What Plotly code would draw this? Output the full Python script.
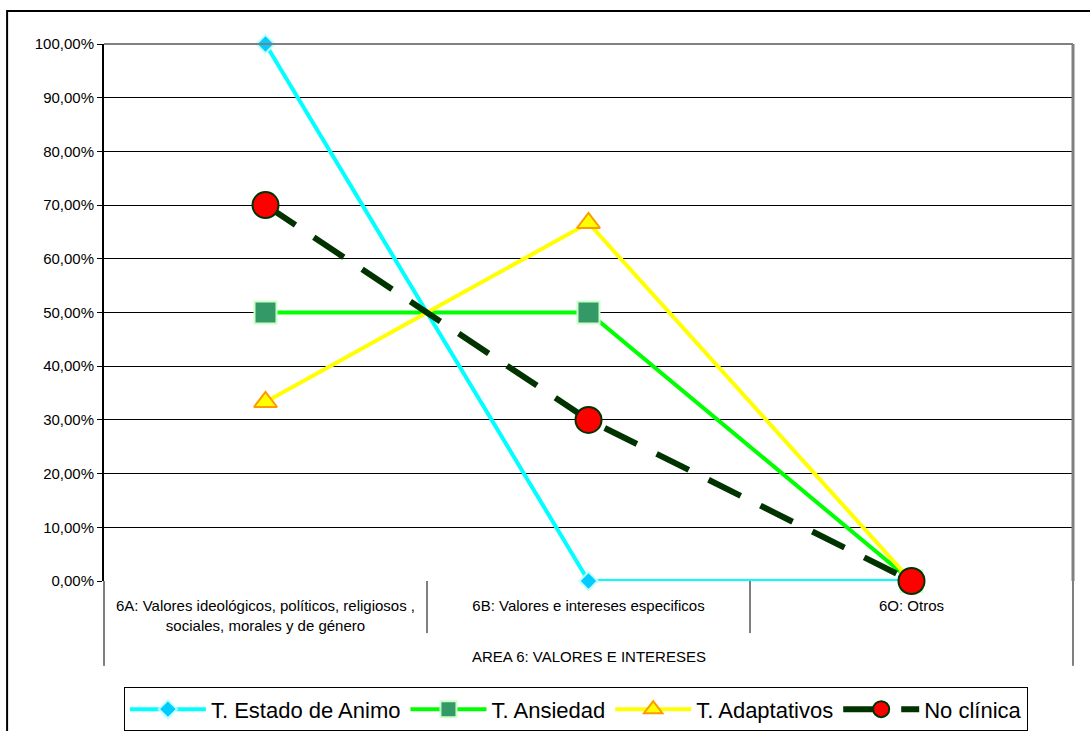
import plotly.graph_objects as go

# Categories (area 6) and the share of each group per category
categorias = [
    "6A: Valores ideológicos, políticos, religiosos ,<br>sociales, morales y de género",
    "6B: Valores e intereses especificos",
    "6O: Otros",
]
grupo_area = "AREA 6: VALORES E INTERESES"

estado_animo = [1.00, 0.00, 0.00]
ansiedad = [0.50, 0.50, 0.00]
adaptativos = [1 / 3, 2 / 3, 0.00]
no_clinica = [0.70, 0.30, 0.00]

y_ticks = [i / 10 for i in range(11)]
y_tick_labels = [f"{v * 100:.2f}%".replace(".", ",") for v in y_ticks]

x = list(range(len(categorias)))
FONT = "Liberation Sans, Arial, sans-serif"

fig = go.Figure()

fig.add_trace(go.Scatter(
    x=x, y=estado_animo, name="T. Estado de Animo", mode="lines+markers",
    line=dict(color="#00FFFF", width=4),
    marker=dict(symbol="diamond", size=14, color="#00CCFF",
                line=dict(color="#BFFFFF", width=2)),
    cliponaxis=False,
))
fig.add_trace(go.Scatter(
    x=x, y=ansiedad, name="T. Ansiedad", mode="lines+markers",
    line=dict(color="#00FF00", width=4),
    marker=dict(symbol="square", size=22, color="#339966",
                line=dict(color="#CCFFCC", width=2)),
    cliponaxis=False,
))
fig.add_trace(go.Scatter(
    x=x, y=adaptativos, name="T. Adaptativos", mode="lines+markers",
    line=dict(color="#FFFF00", width=4),
    marker=dict(symbol="triangle-up", size=20, color="#FFFF00",
                line=dict(color="#FF9900", width=2)),
    cliponaxis=False,
))
fig.add_trace(go.Scatter(
    x=x, y=no_clinica, name="No clínica", mode="lines+markers",
    line=dict(color="#003300", width=6, dash="36px,22px"),
    marker=dict(symbol="circle", size=26, color="#FF0000",
                line=dict(color="#003300", width=2)),
    cliponaxis=False,
))

shapes = [
    # outer chart frame
    dict(type="rect", xref="paper", yref="paper", x0=-0.100, x1=1.2, y0=-0.5, y1=1.0615,
         line=dict(color="#000000", width=2), layer="below"),
    # plot-area border (top and right, grey)
    dict(type="line", xref="paper", yref="paper", x0=0, x1=1, y0=1, y1=1,
         line=dict(color="#808080", width=2)),
    dict(type="line", xref="paper", yref="paper", x0=1, x1=1, y0=0, y1=1,
         line=dict(color="#808080", width=3)),
    # category table outline
    dict(type="line", xref="paper", yref="paper", x0=0, x1=0, y0=-0.158, y1=0,
         line=dict(color="#000000", width=1)),
    dict(type="line", xref="paper", yref="paper", x0=1, x1=1, y0=-0.158, y1=0,
         line=dict(color="#000000", width=1)),
]
for sep in [i + 0.5 for i in range(len(categorias) - 1)]:
    shapes.append(dict(type="line", xref="x", yref="paper", x0=sep, x1=sep,
                       y0=-0.097, y1=0, line=dict(color="#000000", width=1)))

fig.update_layout(
    width=1090, height=731,
    margin=dict(l=104, r=17, t=44, b=150, autoexpand=False),
    paper_bgcolor="white", plot_bgcolor="white",
    font=dict(family=FONT, color="#000000"),
    shapes=shapes,
    annotations=[dict(
        text=grupo_area, xref="paper", yref="paper", x=0.5, y=-0.1397,
        showarrow=False, font=dict(size=15, family=FONT), yanchor="middle",
    )],
    xaxis=dict(
        range=[-0.5, 2.5], tickvals=x, ticktext=categorias,
        showgrid=False, zeroline=False, showline=False, ticks="",
        tickfont=dict(size=15, family=FONT), ticklabelstandoff=14,
    ),
    yaxis=dict(
        range=[0, 1], tickvals=y_ticks, ticktext=y_tick_labels,
        showgrid=True, gridcolor="#000000", gridwidth=1,
        zeroline=False, showline=True, linecolor="#000000", linewidth=2,
        ticks="outside", ticklen=5, tickcolor="#000000",
        tickfont=dict(size=15, family=FONT),
    ),
    legend=dict(
        orientation="h", x=0.487, xanchor="center", y=-0.198, yanchor="top",
        bordercolor="#000000", borderwidth=1, bgcolor="white",
        font=dict(size=22, family=FONT), itemwidth=76,
        traceorder="normal",
    ),
)

fig.write_html("out.html")
